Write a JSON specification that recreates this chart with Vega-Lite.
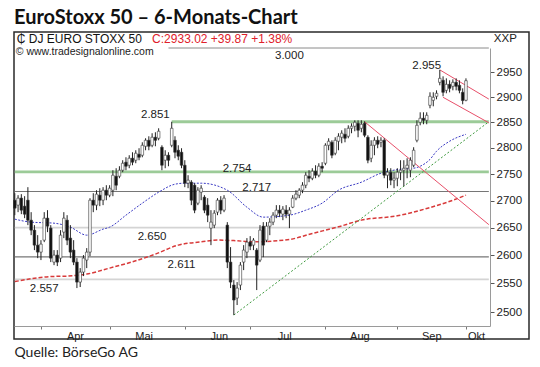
{
  "$schema": "https://vega.github.io/schema/vega-lite/v6.json",
  "width": 515,
  "height": 307,
  "autosize": {"type": "none"},
  "padding": {"left": 14, "top": 32, "right": 11, "bottom": 28},
  "background": "white",
  "config": {"view": {"stroke": "#2a2a2a", "strokeWidth": 1.5}, "font": "Liberation Sans"},
  "title": {"text": "EuroStoxx 50 – 6-Monats-Chart", "anchor": "start", "frame": "group", "font": "Lato", "fontSize": 20, "fontWeight": "bold", "color": "#111111", "offset": 4},
  "datasets": {
    "ohlc": [
      {"d":"2013-03-19","o":2700.7,"h":2713.8,"l":2672.9,"c":2685.9},
      {"d":"2013-03-20","o":2691.5,"h":2710.1,"l":2678.5,"c":2704.5},
      {"d":"2013-03-21","o":2704.5,"h":2712.0,"l":2674.8,"c":2682.2},
      {"d":"2013-03-22","o":2689.6,"h":2708.2,"l":2667.4,"c":2674.8},
      {"d":"2013-03-25","o":2700.7,"h":2725.1,"l":2654.6,"c":2663.7},
      {"d":"2013-03-26","o":2663.7,"h":2678.5,"l":2636.3,"c":2645.4},
      {"d":"2013-03-27","o":2645.4,"h":2654.6,"l":2609.2,"c":2618.2},
      {"d":"2013-03-28","o":2618.2,"h":2636.3,"l":2594.8,"c":2605.6},
      {"d":"2013-04-02","o":2605.6,"h":2627.2,"l":2591.3,"c":2620.0},
      {"d":"2013-04-03","o":2627.2,"h":2678.5,"l":2623.6,"c":2667.4},
      {"d":"2013-04-04","o":2667.4,"h":2682.2,"l":2641.8,"c":2652.7},
      {"d":"2013-04-05","o":2649.1,"h":2654.6,"l":2587.7,"c":2594.8},
      {"d":"2013-04-08","o":2587.7,"h":2609.2,"l":2582.3,"c":2600.2},
      {"d":"2013-04-09","o":2600.2,"h":2609.2,"l":2580.6,"c":2587.7},
      {"d":"2013-04-10","o":2594.8,"h":2645.4,"l":2587.7,"c":2636.3},
      {"d":"2013-04-11","o":2641.8,"h":2678.5,"l":2630.9,"c":2667.4},
      {"d":"2013-04-12","o":2663.7,"h":2672.9,"l":2618.2,"c":2627.2},
      {"d":"2013-04-15","o":2630.9,"h":2654.6,"l":2594.8,"c":2605.6},
      {"d":"2013-04-16","o":2609.2,"h":2627.2,"l":2582.3,"c":2587.7},
      {"d":"2013-04-17","o":2587.7,"h":2594.8,"l":2541.7,"c":2552.2},
      {"d":"2013-04-18","o":2552.2,"h":2577.0,"l":2543.5,"c":2569.9},
      {"d":"2013-04-19","o":2569.9,"h":2600.2,"l":2562.8,"c":2594.8},
      {"d":"2013-04-22","o":2591.3,"h":2612.8,"l":2577.0,"c":2605.6},
      {"d":"2013-04-23","o":2605.6,"h":2704.5,"l":2598.4,"c":2700.7},
      {"d":"2013-04-24","o":2700.7,"h":2713.8,"l":2678.5,"c":2691.5},
      {"d":"2013-04-25","o":2691.5,"h":2719.4,"l":2682.2,"c":2712.0},
      {"d":"2013-04-26","o":2710.1,"h":2723.2,"l":2689.6,"c":2700.7},
      {"d":"2013-04-29","o":2700.7,"h":2725.1,"l":2691.5,"c":2719.4},
      {"d":"2013-04-30","o":2719.4,"h":2728.8,"l":2700.7,"c":2710.1},
      {"d":"2013-05-01","o":2710.1,"h":2728.8,"l":2706.3,"c":2723.2},
      {"d":"2013-05-02","o":2719.4,"h":2757.2,"l":2708.2,"c":2747.7},
      {"d":"2013-05-03","o":2745.8,"h":2761.0,"l":2719.4,"c":2728.8},
      {"d":"2013-05-06","o":2745.8,"h":2764.8,"l":2742.0,"c":2757.2},
      {"d":"2013-05-07","o":2757.2,"h":2776.3,"l":2753.4,"c":2770.5},
      {"d":"2013-05-08","o":2772.5,"h":2782.0,"l":2757.2,"c":2764.8},
      {"d":"2013-05-09","o":2766.7,"h":2785.9,"l":2761.0,"c":2780.1},
      {"d":"2013-05-10","o":2780.1,"h":2791.6,"l":2766.7,"c":2772.5},
      {"d":"2013-05-13","o":2776.3,"h":2795.5,"l":2770.5,"c":2789.7},
      {"d":"2013-05-14","o":2787.8,"h":2799.4,"l":2776.3,"c":2782.0},
      {"d":"2013-05-15","o":2785.9,"h":2810.9,"l":2782.0,"c":2805.1},
      {"d":"2013-05-16","o":2803.2,"h":2818.7,"l":2795.5,"c":2814.8},
      {"d":"2013-05-17","o":2814.8,"h":2822.6,"l":2795.5,"c":2803.2},
      {"d":"2013-05-20","o":2805.1,"h":2828.5,"l":2801.3,"c":2820.7},
      {"d":"2013-05-21","o":2820.7,"h":2830.4,"l":2803.2,"c":2814.8},
      {"d":"2013-05-22","o":2818.7,"h":2838.2,"l":2814.8,"c":2832.4},
      {"d":"2013-05-23","o":2801.3,"h":2805.1,"l":2757.2,"c":2766.7},
      {"d":"2013-05-24","o":2776.3,"h":2795.5,"l":2761.0,"c":2785.9},
      {"d":"2013-05-27","o":2785.9,"h":2791.6,"l":2764.8,"c":2776.3},
      {"d":"2013-05-28","o":2805.1,"h":2851.0,"l":2801.3,"c":2838.2},
      {"d":"2013-05-29","o":2814.8,"h":2822.6,"l":2780.1,"c":2791.6},
      {"d":"2013-05-30","o":2795.5,"h":2805.1,"l":2776.3,"c":2784.0},
      {"d":"2013-05-31","o":2791.6,"h":2799.4,"l":2761.0,"c":2766.7},
      {"d":"2013-06-03","o":2766.7,"h":2776.3,"l":2725.1,"c":2732.6},
      {"d":"2013-06-04","o":2732.6,"h":2747.7,"l":2723.2,"c":2738.3},
      {"d":"2013-06-05","o":2734.5,"h":2738.3,"l":2691.5,"c":2700.7},
      {"d":"2013-06-06","o":2728.8,"h":2732.6,"l":2676.6,"c":2682.2},
      {"d":"2013-06-07","o":2695.2,"h":2725.1,"l":2691.5,"c":2719.4},
      {"d":"2013-06-10","o":2715.7,"h":2728.8,"l":2700.7,"c":2723.2},
      {"d":"2013-06-11","o":2706.3,"h":2710.1,"l":2676.6,"c":2682.2},
      {"d":"2013-06-12","o":2691.5,"h":2704.5,"l":2660.1,"c":2672.9},
      {"d":"2013-06-13","o":2649.1,"h":2682.2,"l":2618.2,"c":2660.1},
      {"d":"2013-06-14","o":2654.6,"h":2682.2,"l":2649.1,"c":2676.6},
      {"d":"2013-06-17","o":2678.5,"h":2704.5,"l":2672.9,"c":2700.7},
      {"d":"2013-06-18","o":2700.7,"h":2708.2,"l":2674.8,"c":2682.2},
      {"d":"2013-06-19","o":2682.2,"h":2710.1,"l":2678.5,"c":2704.5},
      {"d":"2013-06-20","o":2654.6,"h":2660.1,"l":2577.0,"c":2587.7},
      {"d":"2013-06-21","o":2587.7,"h":2614.6,"l":2541.7,"c":2552.2},
      {"d":"2013-06-24","o":2547.0,"h":2555.8,"l":2494.8,"c":2520.8},
      {"d":"2013-06-25","o":2524.2,"h":2552.2,"l":2512.1,"c":2541.7},
      {"d":"2013-06-26","o":2547.0,"h":2587.7,"l":2538.2,"c":2582.3},
      {"d":"2013-06-27","o":2587.7,"h":2618.2,"l":2573.4,"c":2609.2},
      {"d":"2013-06-28","o":2605.6,"h":2630.9,"l":2594.8,"c":2623.6},
      {"d":"2013-07-01","o":2623.6,"h":2634.5,"l":2609.2,"c":2616.4},
      {"d":"2013-07-02","o":2618.2,"h":2630.9,"l":2609.2,"c":2627.2},
      {"d":"2013-07-03","o":2609.2,"h":2612.8,"l":2538.2,"c":2582.3},
      {"d":"2013-07-04","o":2591.3,"h":2654.6,"l":2587.7,"c":2645.4},
      {"d":"2013-07-05","o":2652.7,"h":2660.1,"l":2596.6,"c":2618.2},
      {"d":"2013-07-08","o":2627.2,"h":2660.1,"l":2623.6,"c":2652.7},
      {"d":"2013-07-09","o":2652.7,"h":2667.4,"l":2636.3,"c":2660.1},
      {"d":"2013-07-10","o":2660.1,"h":2678.5,"l":2654.6,"c":2672.9},
      {"d":"2013-07-11","o":2672.9,"h":2691.5,"l":2667.4,"c":2682.2},
      {"d":"2013-07-12","o":2682.2,"h":2691.5,"l":2669.3,"c":2676.6},
      {"d":"2013-07-15","o":2674.8,"h":2689.6,"l":2663.7,"c":2684.0},
      {"d":"2013-07-16","o":2682.2,"h":2691.5,"l":2667.4,"c":2674.8},
      {"d":"2013-07-17","o":2674.8,"h":2687.7,"l":2649.1,"c":2682.2},
      {"d":"2013-07-18","o":2687.7,"h":2710.1,"l":2685.9,"c":2704.5},
      {"d":"2013-07-19","o":2704.5,"h":2719.4,"l":2700.7,"c":2712.0},
      {"d":"2013-07-22","o":2710.1,"h":2723.2,"l":2704.5,"c":2719.4},
      {"d":"2013-07-23","o":2719.4,"h":2734.5,"l":2713.8,"c":2728.8},
      {"d":"2013-07-24","o":2728.8,"h":2753.4,"l":2723.2,"c":2747.7},
      {"d":"2013-07-25","o":2745.8,"h":2757.2,"l":2734.5,"c":2742.0},
      {"d":"2013-07-26","o":2742.0,"h":2761.0,"l":2738.3,"c":2755.3},
      {"d":"2013-07-29","o":2755.3,"h":2766.7,"l":2742.0,"c":2747.7},
      {"d":"2013-07-30","o":2747.7,"h":2770.5,"l":2743.9,"c":2764.8},
      {"d":"2013-07-31","o":2764.8,"h":2772.5,"l":2753.4,"c":2761.0},
      {"d":"2013-08-01","o":2770.5,"h":2809.0,"l":2766.7,"c":2805.1},
      {"d":"2013-08-02","o":2805.1,"h":2818.7,"l":2795.5,"c":2812.9},
      {"d":"2013-08-05","o":2810.9,"h":2814.8,"l":2780.1,"c":2785.9},
      {"d":"2013-08-06","o":2789.7,"h":2820.7,"l":2785.9,"c":2814.8},
      {"d":"2013-08-07","o":2812.9,"h":2828.5,"l":2795.5,"c":2822.6},
      {"d":"2013-08-08","o":2820.7,"h":2834.3,"l":2809.0,"c":2828.5},
      {"d":"2013-08-09","o":2826.5,"h":2838.2,"l":2810.9,"c":2818.7},
      {"d":"2013-08-12","o":2822.6,"h":2844.1,"l":2818.7,"c":2838.2},
      {"d":"2013-08-13","o":2838.2,"h":2848.0,"l":2828.5,"c":2842.2},
      {"d":"2013-08-14","o":2842.2,"h":2853.9,"l":2832.4,"c":2850.0},
      {"d":"2013-08-15","o":2848.0,"h":2853.9,"l":2820.7,"c":2834.3},
      {"d":"2013-08-16","o":2838.2,"h":2853.9,"l":2830.4,"c":2846.1},
      {"d":"2013-08-19","o":2848.0,"h":2851.9,"l":2820.7,"c":2824.6},
      {"d":"2013-08-20","o":2820.7,"h":2824.6,"l":2770.5,"c":2776.3},
      {"d":"2013-08-21","o":2780.1,"h":2814.8,"l":2772.5,"c":2805.1},
      {"d":"2013-08-22","o":2805.1,"h":2820.7,"l":2785.9,"c":2814.8},
      {"d":"2013-08-23","o":2814.8,"h":2822.6,"l":2799.4,"c":2807.1},
      {"d":"2013-08-26","o":2810.9,"h":2820.7,"l":2801.3,"c":2814.8},
      {"d":"2013-08-27","o":2814.8,"h":2818.7,"l":2742.0,"c":2747.7},
      {"d":"2013-08-28","o":2747.7,"h":2761.0,"l":2723.2,"c":2753.4},
      {"d":"2013-08-29","o":2753.4,"h":2761.0,"l":2728.8,"c":2738.3},
      {"d":"2013-08-30","o":2738.3,"h":2753.4,"l":2723.2,"c":2742.0},
      {"d":"2013-09-02","o":2742.0,"h":2761.0,"l":2726.9,"c":2753.4},
      {"d":"2013-09-03","o":2753.4,"h":2776.3,"l":2738.3,"c":2757.2},
      {"d":"2013-09-04","o":2757.2,"h":2776.3,"l":2726.9,"c":2761.0},
      {"d":"2013-09-05","o":2761.0,"h":2780.1,"l":2742.0,"c":2766.7},
      {"d":"2013-09-06","o":2757.2,"h":2782.0,"l":2743.9,"c":2776.3},
      {"d":"2013-09-09","o":2766.7,"h":2801.3,"l":2762.9,"c":2795.5},
      {"d":"2013-09-10","o":2814.8,"h":2853.9,"l":2810.9,"c":2844.1},
      {"d":"2013-09-11","o":2850.0,"h":2869.7,"l":2844.1,"c":2857.9},
      {"d":"2013-09-12","o":2857.9,"h":2869.7,"l":2846.1,"c":2853.9},
      {"d":"2013-09-13","o":2853.9,"h":2869.7,"l":2846.1,"c":2863.8},
      {"d":"2013-09-16","o":2883.6,"h":2909.6,"l":2877.7,"c":2901.6},
      {"d":"2013-09-17","o":2893.6,"h":2909.6,"l":2881.6,"c":2899.6},
      {"d":"2013-09-18","o":2901.6,"h":2913.6,"l":2895.6,"c":2907.6},
      {"d":"2013-09-19","o":2929.7,"h":2955.0,"l":2923.7,"c":2937.8},
      {"d":"2013-09-20","o":2933.8,"h":2941.9,"l":2901.6,"c":2909.6},
      {"d":"2013-09-23","o":2913.6,"h":2937.8,"l":2907.6,"c":2925.7},
      {"d":"2013-09-24","o":2925.7,"h":2933.8,"l":2909.6,"c":2917.6},
      {"d":"2013-09-25","o":2921.7,"h":2935.8,"l":2913.6,"c":2929.7},
      {"d":"2013-09-26","o":2929.7,"h":2937.8,"l":2913.6,"c":2921.7},
      {"d":"2013-09-27","o":2923.7,"h":2933.8,"l":2907.6,"c":2913.6},
      {"d":"2013-09-30","o":2909.6,"h":2917.6,"l":2885.6,"c":2893.15},
      {"d":"2013-10-01","o":2893.6,"h":2937.8,"l":2891.6,"c":2933.02}
    ],
    "maBlue": [
      {"d":"2013-03-19","v":2665.6},{"d":"2013-03-26","v":2660.1},{"d":"2013-04-08","v":2658.2},{"d":"2013-04-15","v":2650.9},
      {"d":"2013-04-22","v":2636.3},{"d":"2013-04-29","v":2647.3},{"d":"2013-05-01","v":2650.9},{"d":"2013-05-08","v":2672.9},
      {"d":"2013-05-15","v":2695.2},{"d":"2013-05-22","v":2715.7},{"d":"2013-05-29","v":2730.7},{"d":"2013-06-03","v":2732.6},
      {"d":"2013-06-10","v":2732.6},{"d":"2013-06-20","v":2719.4},{"d":"2013-06-28","v":2687.7},{"d":"2013-07-05","v":2669.3},
      {"d":"2013-07-17","v":2672.9},{"d":"2013-07-24","v":2682.2},{"d":"2013-07-31","v":2695.2},{"d":"2013-08-07","v":2719.4},
      {"d":"2013-08-16","v":2734.5},{"d":"2013-08-26","v":2751.5},{"d":"2013-09-03","v":2759.1},{"d":"2013-09-09","v":2761.0},
      {"d":"2013-09-11","v":2764.8},{"d":"2013-09-16","v":2778.0},{"d":"2013-09-18","v":2793.6},{"d":"2013-09-24","v":2812.9},
      {"d":"2013-10-01","v":2826.5}
    ],
    "maRed": [
      {"d":"2013-03-19","v":2553.1},{"d":"2013-04-05","v":2562.0},{"d":"2013-04-12","v":2562.8},{"d":"2013-04-22","v":2566.4},
      {"d":"2013-05-01","v":2577.0},{"d":"2013-05-10","v":2588.2},{"d":"2013-05-21","v":2602.0},{"d":"2013-05-30","v":2618.2},
      {"d":"2013-06-10","v":2624.2},{"d":"2013-06-17","v":2627.3},{"d":"2013-06-24","v":2626.4},{"d":"2013-07-02","v":2624.2},
      {"d":"2013-07-17","v":2628.5},{"d":"2013-07-26","v":2639.4},{"d":"2013-08-07","v":2651.5},{"d":"2013-08-16","v":2663.8},
      {"d":"2013-09-02","v":2671.7},{"d":"2013-09-13","v":2685.3},{"d":"2013-09-25","v":2700.7},{"d":"2013-10-01","v":2710.1}
    ],
    "levelsGreen": [
      {"d":"2013-05-28","d2":"2013-10-10","v":2851},
      {"d":"2013-03-19","d2":"2013-10-10","v":2754}
    ],
    "levelsDark": [
      {"d":"2013-03-19","d2":"2013-10-10","v":2717},
      {"d":"2013-03-19","d2":"2013-10-10","v":2597}
    ],
    "levelsLight": [
      {"d":"2013-03-19","d2":"2013-10-10","v":2650},
      {"d":"2013-03-19","d2":"2013-10-10","v":2557}
    ],
    "levelTop": [
      {"d":"2013-05-27","d2":"2013-10-10","v":3000}
    ],
    "trendGreen": [
      {"d":"2013-06-24","v":2494.8},{"d":"2013-10-10","v":2851}
    ],
    "trendRed": [
      {"line":"a","d":"2013-08-19","v":2851},{"line":"a","d":"2013-10-10","v":2655.5},
      {"line":"b","d":"2013-09-19","v":2955},{"line":"b","d":"2013-10-10","v":2896},
      {"line":"c","d":"2013-09-20","v":2899.6},{"line":"c","d":"2013-10-10","v":2849}
    ],
    "levelLabels": [
      {"d":"2013-07-17","v":2982.7,"t":"3.000"},
      {"d":"2013-09-13","v":2962.2,"t":"2.955"},
      {"d":"2013-05-21","v":2863.8,"t":"2.851"},
      {"d":"2013-06-25","v":2759.1,"t":"2.754"},
      {"d":"2013-07-03","v":2723.2,"t":"2.717"},
      {"d":"2013-05-20","v":2632.7,"t":"2.650"},
      {"d":"2013-05-31","v":2582.3,"t":"2.611"},
      {"d":"2013-04-03","v":2540.0,"t":"2.557"}
    ],
    "header": [
      {"part":"name","d":"2013-03-19","v":3017.9,"t":"₵ DJ EURO STOXX 50"},
      {"part":"quote","d":"2013-05-20","v":3017.9,"t":"C:2933.02 +39.87 +1.38%"},
      {"part":"source","d":"2013-03-19","v":2991.0,"t":"© www.tradesignalonline.com"},
      {"part":"code","d":"2013-10-10","v":3017.9,"t":"XXP"}
    ]
  },
  "encoding": {
    "x": {
      "field": "d",
      "type": "ordinal",
      "scale": {
        "type": "point",
        "range": [0, 476],
        "padding": 0.3,
        "align": 0.41,
        "round": false,
        "domain": ["2013-03-19","2013-03-20","2013-03-21","2013-03-22","2013-03-25","2013-03-26","2013-03-27","2013-03-28",
          "2013-04-02","2013-04-03","2013-04-04","2013-04-05","2013-04-08","2013-04-09","2013-04-10","2013-04-11","2013-04-12",
          "2013-04-15","2013-04-16","2013-04-17","2013-04-18","2013-04-19","2013-04-22","2013-04-23","2013-04-24","2013-04-25",
          "2013-04-26","2013-04-29","2013-04-30","2013-05-01","2013-05-02","2013-05-03","2013-05-06","2013-05-07","2013-05-08",
          "2013-05-09","2013-05-10","2013-05-13","2013-05-14","2013-05-15","2013-05-16","2013-05-17","2013-05-20","2013-05-21",
          "2013-05-22","2013-05-23","2013-05-24","2013-05-27","2013-05-28","2013-05-29","2013-05-30","2013-05-31","2013-06-03",
          "2013-06-04","2013-06-05","2013-06-06","2013-06-07","2013-06-10","2013-06-11","2013-06-12","2013-06-13","2013-06-14",
          "2013-06-17","2013-06-18","2013-06-19","2013-06-20","2013-06-21","2013-06-24","2013-06-25","2013-06-26","2013-06-27",
          "2013-06-28","2013-07-01","2013-07-02","2013-07-03","2013-07-04","2013-07-05","2013-07-08","2013-07-09","2013-07-10",
          "2013-07-11","2013-07-12","2013-07-15","2013-07-16","2013-07-17","2013-07-18","2013-07-19","2013-07-22","2013-07-23",
          "2013-07-24","2013-07-25","2013-07-26","2013-07-29","2013-07-30","2013-07-31","2013-08-01","2013-08-02","2013-08-05",
          "2013-08-06","2013-08-07","2013-08-08","2013-08-09","2013-08-12","2013-08-13","2013-08-14","2013-08-15","2013-08-16",
          "2013-08-19","2013-08-20","2013-08-21","2013-08-22","2013-08-23","2013-08-26","2013-08-27","2013-08-28","2013-08-29",
          "2013-08-30","2013-09-02","2013-09-03","2013-09-04","2013-09-05","2013-09-06","2013-09-09","2013-09-10","2013-09-11",
          "2013-09-12","2013-09-13","2013-09-16","2013-09-17","2013-09-18","2013-09-19","2013-09-20","2013-09-23","2013-09-24",
          "2013-09-25","2013-09-26","2013-09-27","2013-09-30","2013-10-01","2013-10-02","2013-10-03","2013-10-04","2013-10-07",
          "2013-10-08","2013-10-09","2013-10-10"]
      },
      "axis": {
        "values": ["2013-04-02","2013-05-01","2013-06-03","2013-07-01","2013-08-01","2013-09-02","2013-10-01"],
        "labelExpr": "['Apr','Mai','Jun','Jul','Aug','Sep','Okt'][toNumber(substring(datum.value,5,7))-4]",
        "offset": -13,
        "grid": false,
        "domainColor": "#9a9a9a",
        "tickColor": "#777777",
        "tickSize": 3,
        "labelAngle": 0,
        "labelFontSize": 11,
        "labelColor": "#222222",
        "labelPadding": 1,
        "labelOverlap": false,
        "labelOffset": {"condition": {"test": "datum.value === '2013-10-01'", "value": 10}, "value": 34},
        "title": "Quelle: BörseGo AG",
        "titleX": 0,
        "titleY": 26,
        "titleAnchor": "start",
        "titleAlign": "left",
        "titleBaseline": "middle",
        "titleFont": "Lato",
        "titleFontSize": 14,
        "titleFontWeight": "normal",
        "titleColor": "#222222"
      }
    }
  },
  "layer": [
    {
      "data": {"name": "levelsLight"},
      "mark": {"type": "rule", "color": "#d4d4d4", "strokeWidth": 1.6},
      "encoding": {"x2": {"field": "d2"}, "y": {"field": "v", "type": "quantitative", "scale": {"type": "log", "domain": [2476, 3000], "range": [294, 16], "nice": false},
        "axis": {"orient": "right", "offset": -39, "values": [2500, 2550, 2600, 2650, 2700, 2750, 2800, 2850, 2900, 2950], "format": "d", "title": null, "grid": false, "domainColor": "#9a9a9a", "tickColor": "#555555", "tickSize": 4, "labelFontSize": 11.5, "labelColor": "#222222", "labelPadding": 2}}}
    },
    {
      "data": {"name": "levelsDark"},
      "mark": {"type": "rule", "color": "#767676", "strokeWidth": 1.2},
      "encoding": {"x2": {"field": "d2"}, "y": {"field": "v", "type": "quantitative", "scale": {"type": "log", "domain": [2476, 3000], "range": [294, 16], "nice": false},
        "axis": {"orient": "right", "offset": -39, "values": [2500, 2550, 2600, 2650, 2700, 2750, 2800, 2850, 2900, 2950], "format": "d", "title": null, "grid": false, "domainColor": "#9a9a9a", "tickColor": "#555555", "tickSize": 4, "labelFontSize": 11.5, "labelColor": "#222222", "labelPadding": 2}}}
    },
    {
      "data": {"name": "levelTop"},
      "mark": {"type": "rule", "color": "#8a8a8a", "strokeWidth": 1},
      "encoding": {"x2": {"field": "d2"}, "y": {"field": "v", "type": "quantitative", "scale": {"type": "log", "domain": [2476, 3000], "range": [294, 16], "nice": false},
        "axis": {"orient": "right", "offset": -39, "values": [2500, 2550, 2600, 2650, 2700, 2750, 2800, 2850, 2900, 2950], "format": "d", "title": null, "grid": false, "domainColor": "#9a9a9a", "tickColor": "#555555", "tickSize": 4, "labelFontSize": 11.5, "labelColor": "#222222", "labelPadding": 2}}}
    },
    {
      "data": {"name": "levelsGreen"},
      "mark": {"type": "rule", "color": "#9ccb98", "strokeWidth": 2.8},
      "encoding": {"x2": {"field": "d2"}, "y": {"field": "v", "type": "quantitative", "scale": {"type": "log", "domain": [2476, 3000], "range": [294, 16], "nice": false},
        "axis": {"orient": "right", "offset": -39, "values": [2500, 2550, 2600, 2650, 2700, 2750, 2800, 2850, 2900, 2950], "format": "d", "title": null, "grid": false, "domainColor": "#9a9a9a", "tickColor": "#555555", "tickSize": 4, "labelFontSize": 11.5, "labelColor": "#222222", "labelPadding": 2}}}
    },
    {
      "data": {"name": "maRed"},
      "mark": {"type": "line", "color": "#d83a3a", "strokeWidth": 1.5, "strokeDash": [4, 2], "interpolate": "monotone"},
      "encoding": {"y": {"field": "v", "type": "quantitative", "scale": {"type": "log", "domain": [2476, 3000], "range": [294, 16], "nice": false},
        "axis": {"orient": "right", "offset": -39, "values": [2500, 2550, 2600, 2650, 2700, 2750, 2800, 2850, 2900, 2950], "format": "d", "title": null, "grid": false, "domainColor": "#9a9a9a", "tickColor": "#555555", "tickSize": 4, "labelFontSize": 11.5, "labelColor": "#222222", "labelPadding": 2}}}
    },
    {
      "data": {"name": "maBlue"},
      "mark": {"type": "line", "color": "#3b3bc4", "strokeWidth": 1, "strokeDash": [2, 1.5], "interpolate": "monotone"},
      "encoding": {"y": {"field": "v", "type": "quantitative", "scale": {"type": "log", "domain": [2476, 3000], "range": [294, 16], "nice": false},
        "axis": {"orient": "right", "offset": -39, "values": [2500, 2550, 2600, 2650, 2700, 2750, 2800, 2850, 2900, 2950], "format": "d", "title": null, "grid": false, "domainColor": "#9a9a9a", "tickColor": "#555555", "tickSize": 4, "labelFontSize": 11.5, "labelColor": "#222222", "labelPadding": 2}}}
    },
    {
      "data": {"name": "trendGreen"},
      "mark": {"type": "line", "color": "#3f9a3f", "strokeWidth": 1, "strokeDash": [2, 2]},
      "encoding": {"y": {"field": "v", "type": "quantitative", "scale": {"type": "log", "domain": [2476, 3000], "range": [294, 16], "nice": false},
        "axis": {"orient": "right", "offset": -39, "values": [2500, 2550, 2600, 2650, 2700, 2750, 2800, 2850, 2900, 2950], "format": "d", "title": null, "grid": false, "domainColor": "#9a9a9a", "tickColor": "#555555", "tickSize": 4, "labelFontSize": 11.5, "labelColor": "#222222", "labelPadding": 2}}}
    },
    {
      "data": {"name": "trendRed"},
      "mark": {"type": "line", "color": "#e8506a", "strokeWidth": 1},
      "encoding": {"detail": {"field": "line"}, "y": {"field": "v", "type": "quantitative", "scale": {"type": "log", "domain": [2476, 3000], "range": [294, 16], "nice": false},
        "axis": {"orient": "right", "offset": -39, "values": [2500, 2550, 2600, 2650, 2700, 2750, 2800, 2850, 2900, 2950], "format": "d", "title": null, "grid": false, "domainColor": "#9a9a9a", "tickColor": "#555555", "tickSize": 4, "labelFontSize": 11.5, "labelColor": "#222222", "labelPadding": 2}}}
    },
    {
      "data": {"name": "ohlc"},
      "mark": {"type": "rule", "color": "#222222", "strokeWidth": 1},
      "encoding": {
        "y": {"field": "h", "type": "quantitative", "scale": {"type": "log", "domain": [2476, 3000], "range": [294, 16], "nice": false},
          "axis": {"orient": "right", "offset": -39, "values": [2500, 2550, 2600, 2650, 2700, 2750, 2800, 2850, 2900, 2950], "format": "d", "title": null, "grid": false, "domainColor": "#9a9a9a", "tickColor": "#555555", "tickSize": 4, "labelFontSize": 11.5, "labelColor": "#222222", "labelPadding": 2}},
        "y2": {"field": "l"}
      }
    },
    {
      "data": {"name": "ohlc"},
      "mark": {"type": "bar", "size": 2.6, "stroke": "#333333", "strokeWidth": 0.6},
      "encoding": {
        "y": {"field": "o", "type": "quantitative", "scale": {"type": "log", "domain": [2476, 3000], "range": [294, 16], "nice": false},
          "axis": {"orient": "right", "offset": -39, "values": [2500, 2550, 2600, 2650, 2700, 2750, 2800, 2850, 2900, 2950], "format": "d", "title": null, "grid": false, "domainColor": "#9a9a9a", "tickColor": "#555555", "tickSize": 4, "labelFontSize": 11.5, "labelColor": "#222222", "labelPadding": 2}},
        "y2": {"field": "c"},
        "fill": {"condition": {"test": "datum.c > datum.o", "value": "#ffffff"}, "value": "#111111"}
      }
    },
    {
      "data": {"name": "levelLabels"},
      "mark": {"type": "text", "font": "Liberation Sans", "fontSize": 11.5, "color": "#222222", "align": "center", "baseline": "middle"},
      "encoding": {"text": {"field": "t"}, "y": {"field": "v", "type": "quantitative", "scale": {"type": "log", "domain": [2476, 3000], "range": [294, 16], "nice": false},
        "axis": {"orient": "right", "offset": -39, "values": [2500, 2550, 2600, 2650, 2700, 2750, 2800, 2850, 2900, 2950], "format": "d", "title": null, "grid": false, "domainColor": "#9a9a9a", "tickColor": "#555555", "tickSize": 4, "labelFontSize": 11.5, "labelColor": "#222222", "labelPadding": 2}}}
    },
    {
      "data": {"name": "header"},
      "transform": [{"filter": "datum.part == 'name'"}],
      "mark": {"type": "text", "font": "Liberation Sans", "fontSize": 12, "color": "#111111", "align": "left", "baseline": "middle", "dx": 2},
      "encoding": {"text": {"field": "t"}, "y": {"field": "v", "type": "quantitative", "scale": {"type": "log", "domain": [2476, 3000], "range": [294, 16], "nice": false},
        "axis": {"orient": "right", "offset": -39, "values": [2500, 2550, 2600, 2650, 2700, 2750, 2800, 2850, 2900, 2950], "format": "d", "title": null, "grid": false, "domainColor": "#9a9a9a", "tickColor": "#555555", "tickSize": 4, "labelFontSize": 11.5, "labelColor": "#222222", "labelPadding": 2}}}
    },
    {
      "data": {"name": "header"},
      "transform": [{"filter": "datum.part == 'quote'"}],
      "mark": {"type": "text", "font": "Liberation Sans", "fontSize": 12, "color": "#e0202a", "align": "left", "baseline": "middle"},
      "encoding": {"text": {"field": "t"}, "y": {"field": "v", "type": "quantitative", "scale": {"type": "log", "domain": [2476, 3000], "range": [294, 16], "nice": false},
        "axis": {"orient": "right", "offset": -39, "values": [2500, 2550, 2600, 2650, 2700, 2750, 2800, 2850, 2900, 2950], "format": "d", "title": null, "grid": false, "domainColor": "#9a9a9a", "tickColor": "#555555", "tickSize": 4, "labelFontSize": 11.5, "labelColor": "#222222", "labelPadding": 2}}}
    },
    {
      "data": {"name": "header"},
      "transform": [{"filter": "datum.part == 'source'"}],
      "mark": {"type": "text", "font": "Liberation Sans", "fontSize": 10.5, "color": "#222222", "align": "left", "baseline": "middle", "dx": 1},
      "encoding": {"text": {"field": "t"}, "y": {"field": "v", "type": "quantitative", "scale": {"type": "log", "domain": [2476, 3000], "range": [294, 16], "nice": false},
        "axis": {"orient": "right", "offset": -39, "values": [2500, 2550, 2600, 2650, 2700, 2750, 2800, 2850, 2900, 2950], "format": "d", "title": null, "grid": false, "domainColor": "#9a9a9a", "tickColor": "#555555", "tickSize": 4, "labelFontSize": 11.5, "labelColor": "#222222", "labelPadding": 2}}}
    },
    {
      "data": {"name": "header"},
      "transform": [{"filter": "datum.part == 'code'"}],
      "mark": {"type": "text", "font": "Liberation Sans", "fontSize": 11.5, "color": "#222222", "align": "left", "baseline": "middle", "dx": 5},
      "encoding": {"text": {"field": "t"}, "y": {"field": "v", "type": "quantitative", "scale": {"type": "log", "domain": [2476, 3000], "range": [294, 16], "nice": false},
        "axis": {"orient": "right", "offset": -39, "values": [2500, 2550, 2600, 2650, 2700, 2750, 2800, 2850, 2900, 2950], "format": "d", "title": null, "grid": false, "domainColor": "#9a9a9a", "tickColor": "#555555", "tickSize": 4, "labelFontSize": 11.5, "labelColor": "#222222", "labelPadding": 2}}}
    }
  ]
}
